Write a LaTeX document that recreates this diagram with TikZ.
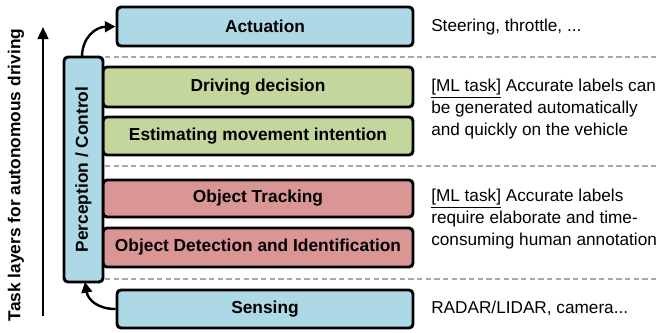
\documentclass[tikz,border=0pt]{standalone}
\usepackage{fontspec}
\setmainfont{Liberation Sans}
\usetikzlibrary{arrows.meta}
\definecolor{cblue}{HTML}{ADD8E6}
\definecolor{cgreen}{HTML}{C3D69B}
\definecolor{cred}{HTML}{D99694}
\definecolor{cdash}{HTML}{A6A6A6}
\tikzset{
  layer/.style={draw=black, line width=2.2pt, rounded corners=3pt, inner sep=0pt, font=\bfseries\fontsize{13}{15}\selectfont},
  sep/.style={draw=cdash, line width=1.6pt, dash pattern=on 4pt off 2.5pt},
  note/.style={anchor=west, align=left, inner sep=0pt, font=\fontsize{12.9}{16.5}\selectfont},
  conn/.style={line width=1.8pt, -{Triangle[length=8pt,width=8pt]}},
}
\begin{document}
\begin{tikzpicture}[x=0.75pt,y=-0.75pt]
\useasboundingbox (0,0) rectangle (659,332);
% separators
\draw[sep] (105,57) -- (656,57);
\draw[sep] (105,166) -- (656,166);
\draw[sep] (105,279) -- (656,279);
% layer boxes
\node[layer, fill=cblue, minimum width=296*0.75pt, minimum height=39*0.75pt] (act) at (265,26.5) {Actuation};
\node[layer, fill=cgreen, minimum width=310*0.75pt, minimum height=40*0.75pt] (dd) at (258,87) {Driving decision};
\node[layer, fill=cgreen, minimum width=310*0.75pt, minimum height=38*0.75pt] (emi) at (258,136) {Estimating movement intention};
\node[layer, fill=cred, minimum width=310*0.75pt, minimum height=37*0.75pt] (ot) at (258,198.5) {Object Tracking};
\node[layer, fill=cred, minimum width=310*0.75pt, minimum height=39*0.75pt] (odi) at (258,247.5) {Object Detection and Identification};
\node[layer, fill=cblue, minimum width=296*0.75pt, minimum height=38*0.75pt] (sen) at (265,309) {Sensing};
% perception / control
\node[layer, fill=cblue, minimum width=225*0.75pt, minimum height=39*0.75pt, rotate=90] (pc) at (83.5,169.5) {Perception / Control};
% connectors
\coordinate (pctop) at (82,57);
\coordinate (pcbot) at (85,282);
\draw[conn] (pctop) .. controls (82,38) and (95,27) .. (act.west);
\draw[conn] (sen.west) .. controls (98,309) and (88,300) .. (pcbot);
% axis arrow
\coordinate (axs) at (43,316);
\coordinate (axe) at (43,27);
\draw[line width=1.8pt, -{Triangle[length=9pt,width=8pt]}] (axs) -- (axe);
\node[rotate=90, font=\bfseries\fontsize{13}{15}\selectfont] (axl) at (16,175) {Task layers for autonomous driving};
% notes
\node[note] (n1) at (431,27) {Steering, throttle, ...};
\node[note] (n2) at (431,109.5) {\underline{[ML task]} Accurate labels can\\be generated automatically\\and quickly on the vehicle};
\node[note] (n3) at (431,219.5) {\underline{[ML task]} Accurate labels\\require elaborate and time-\\consuming human annotation};
\node[note] (n4) at (431,308) {RADAR/LIDAR, camera...};
\end{tikzpicture}
\end{document}
